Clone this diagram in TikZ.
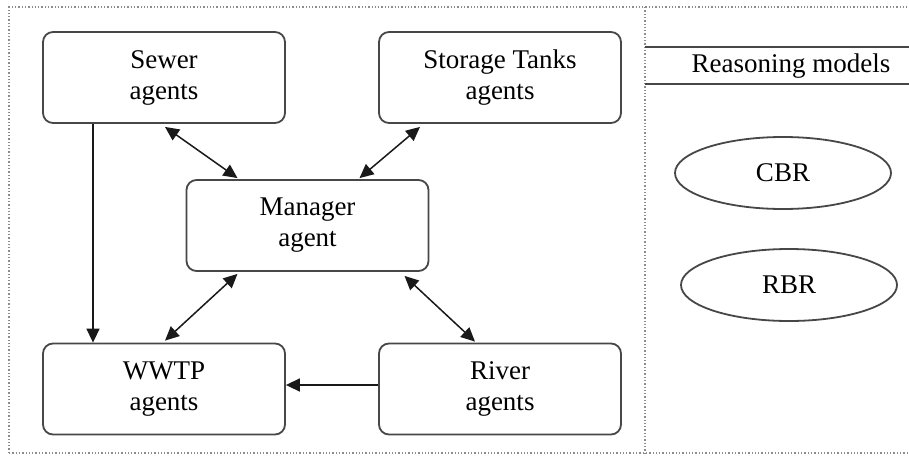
\documentclass[tikz,border=0pt]{standalone}
\usepackage{fontspec}
\setmainfont{Liberation Serif}
\usetikzlibrary{arrows.meta,shapes.geometric}
\begin{document}
\begin{tikzpicture}[x=1pt,y=-1pt,
  agentbox/.style={draw=black!72, line width=1.8pt, rounded corners=10pt,
    minimum width=242pt, minimum height=91pt, align=center, inner sep=0pt,
    font=\fontsize{27}{31}\selectfont},
  model/.style={draw=black!72, line width=1.8pt, ellipse, inner sep=0pt,
    minimum width=216pt, minimum height=72pt, font=\fontsize{27}{31}\selectfont},
  link/.style={line width=1.5pt, black!90},
  tip/.style={-{Triangle[length=14pt,width=13pt]}},
  both/.style={{Triangle[length=14pt,width=13pt]}-{Triangle[length=14pt,width=13pt]}},
  frame/.style={black!45, line width=1.3pt, dotted},
  rule/.style={black!72, line width=2pt}]
\useasboundingbox (0,0) rectangle (909,455);
\fill[white] (0,0) rectangle (909,455);
% frame
\draw[frame] (9,453) -- (9,7) -- (909,7);
\draw[frame] (645,7) -- (645,453);
\draw[frame] (9,453) -- (909,453);
% agents
\node[agentbox] (sewer)   at (164,77.5)  {Sewer\\agents};
\node[agentbox] (storage) at (500,77.5)  {Storage Tanks\\agents};
\node[agentbox] (manager) at (307.5,225.5) {Manager\\agent};
\node[agentbox] (wwtp)    at (164,389)   {WWTP\\agents};
\node[agentbox] (river)   at (500,389)   {River\\agents};
% connectors
\draw[link,tip] ([xshift=-71pt]sewer.south) -- ([xshift=-71pt]wwtp.north);
\draw[link,tip] ([yshift=4pt]river.west) -- ([yshift=4pt]wwtp.east);
\draw[link,both] ([xshift=1pt,yshift=-3pt]sewer.south) -- ([xshift=-70pt,yshift=1pt]manager.north);
\draw[link,both] ([xshift=-80pt,yshift=-3pt]storage.south) -- ([xshift=52pt,yshift=1pt]manager.north);
\draw[link,both] ([xshift=-70pt,yshift=-2pt]manager.south) -- ([xshift=1pt,yshift=2pt]wwtp.north);
\draw[link,both] ([xshift=97pt,yshift=-4pt]manager.south) -- ([xshift=-25pt,yshift=1pt]river.north);
% reasoning models
\draw[rule] (645,47) -- (909,47);
\draw[rule] (645,84) -- (909,84);
\node[font=\fontsize{27}{31}\selectfont, inner sep=0pt] (rm) at (791,66) {Reasoning models};
\node[model] (cbr) at (783,173) {CBR};
\node[model] (rbr) at (789,285) {RBR};
\end{tikzpicture}
\end{document}
